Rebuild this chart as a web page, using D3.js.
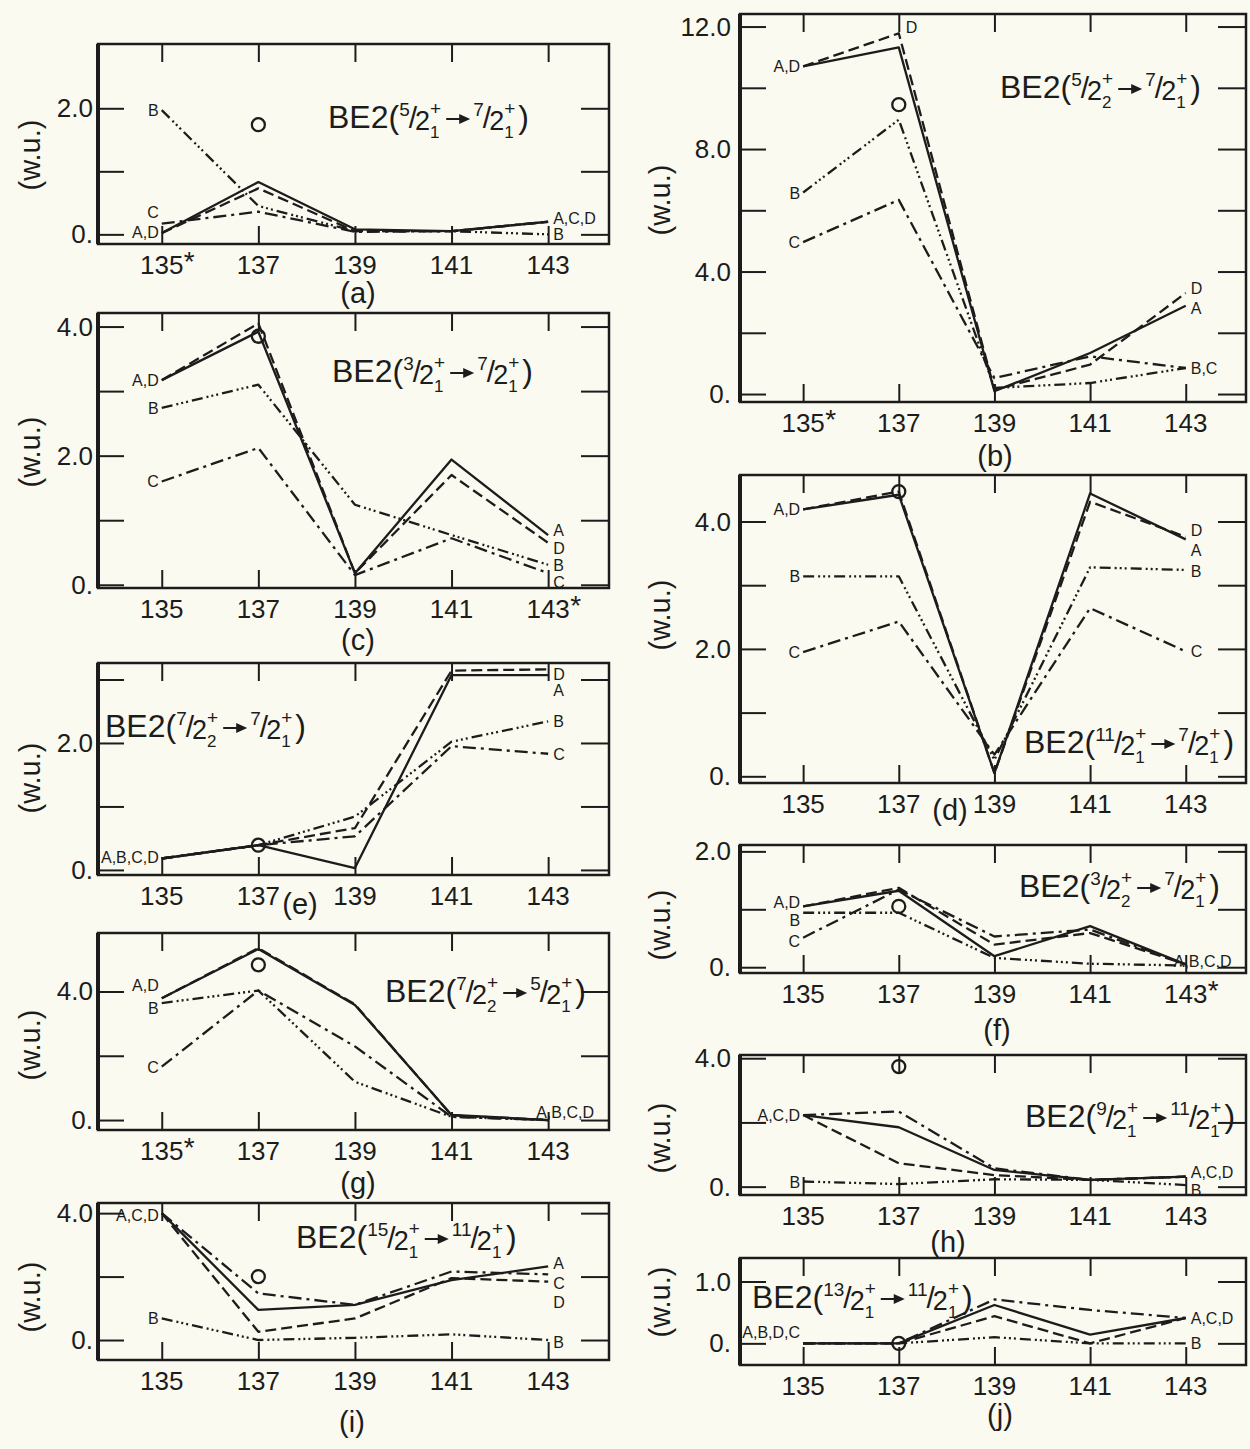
<!DOCTYPE html>
<html>
<head>
<meta charset="utf-8">
<script src="https://cdn.jsdelivr.net/npm/d3@7"></script>
<style>
  body { margin: 0; background: #fbfaf0; }
  svg { display: block; }
  text { font-family: "Liberation Sans", Arial, sans-serif; fill: #1c1c1c; }
</style>
</head>
<body>
<div id="app"></div>
<script>
// mass numbers on the x axis
const isotopes = [135, 137, 139, 141, 143]
const panelIds = ['a', 'b', 'c', 'd', 'e', 'f', 'g', 'h', 'i', 'j']

// B(E2) values (w.u.) per panel, models A..D
const seriesA = [
  [0.02, 0.83, 0.08, 0.05, 0.20],
  [10.70, 11.32, 0.09, 1.34, 2.88],
  [3.17, 3.92, 0.18, 1.94, 0.77],
  [4.19, 4.42, 0.05, 4.44, 3.72],
  [0.18, 0.39, 0.03, 3.07, 3.07],
  [1.05, 1.32, 0.19, 0.71, 0.05],
  [3.79, 5.32, 3.58, 0.16, 0.00],
  [2.23, 1.85, 0.52, 0.21, 0.31],
  [4.00, 0.95, 1.11, 1.89, 2.32],
  [0.00, 0.00, 0.62, 0.14, 0.41]
]
const seriesB = [
  [1.97, 0.45, 0.05, 0.05, 0.00],
  [6.58, 8.96, 0.20, 0.36, 0.85],
  [2.74, 3.10, 1.24, 0.77, 0.31],
  [3.14, 3.14, 0.26, 3.28, 3.24],
  [0.18, 0.39, 0.84, 2.02, 2.34],
  [0.94, 0.94, 0.16, 0.06, 0.03],
  [3.64, 4.03, 1.19, 0.10, 0.00],
  [0.16, 0.08, 0.23, 0.21, 0.05],
  [0.68, 0.00, 0.07, 0.18, 0.00],
  [0.00, 0.00, 0.10, 0.00, 0.00]
]
const seriesC = [
  [0.17, 0.36, 0.04, 0.05, 0.20],
  [4.96, 6.34, 0.52, 1.23, 0.85],
  [1.60, 2.12, 0.15, 0.72, 0.18],
  [1.95, 2.43, 0.34, 2.64, 1.96],
  [0.18, 0.39, 0.53, 1.95, 1.83],
  [0.51, 1.34, 0.53, 0.65, 0.05],
  [1.66, 4.03, 2.29, 0.10, 0.00],
  [2.23, 2.34, 0.57, 0.21, 0.31],
  [4.00, 1.47, 1.11, 2.16, 2.07],
  [0.00, 0.00, 0.71, 0.54, 0.41]
]
const seriesD = [
  [0.02, 0.73, 0.05, 0.05, 0.20],
  [10.70, 11.78, 0.14, 0.96, 3.30],
  [3.17, 4.05, 0.18, 1.70, 0.65],
  [4.19, 4.47, 0.05, 4.31, 3.76],
  [0.18, 0.39, 0.66, 3.14, 3.16],
  [1.05, 1.37, 0.39, 0.59, 0.05],
  [3.79, 5.35, 3.60, 0.15, 0.00],
  [2.23, 0.73, 0.36, 0.21, 0.31],
  [4.00, 0.26, 0.68, 1.95, 1.84],
  [0.00, 0.00, 0.44, 0.00, 0.41]
]
// experimental value (open circle), always at A = 137
const expIsotope = 137
const expValue = [1.74, 9.45, 3.85, 4.47, 0.39, 1.05, 4.83, 3.74, 2.0, 0.0]

// transitions: [initial numerator, initial index, final numerator, final index]
const transitions = [
  ['5', '1', '7', '1'], ['5', '2', '7', '1'], ['3', '1', '7', '1'], ['11', '1', '7', '1'],
  ['7', '2', '7', '1'], ['3', '2', '7', '1'], ['7', '2', '5', '1'], ['9', '1', '11', '1'],
  ['15', '1', '11', '1'], ['13', '1', '11', '1']
]

const yTicks = [[0, 1, 2], [0, 2, 4, 6, 8, 10, 12], [0, 1, 2, 3, 4], [0, 1, 2, 3, 4], [0, 1, 2, 3],
  [0, 1, 2], [0, 2, 4], [0, 2, 4], [0, 2, 4], [0, 1]]
const yTickLabels = [[0, 2], [0, 4, 8, 12], [0, 2, 4], [0, 2, 4], [0, 2], [0, 2], [0, 4], [0, 4], [0, 4], [0, 1]]
const starred = [135, 135, 143, null, null, 143, 135, null, null, null]

// curve labels: [text, where, value]
const curveLabels = [
  [['B', 'L', 1.97], ['C', 'L', 0.36], ['A,D', 'L', 0.04], ['A,C,D', 'R', 0.26], ['B', 'R', 0.0]],
  [['A,D', 'L', 10.7], ['B', 'L', 6.58], ['C', 'L', 4.96], ['D', 'T', 12.0], ['D', 'R', 3.46], ['A', 'R', 2.8], ['B,C', 'R', 0.85]],
  [['A,D', 'L', 3.17], ['B', 'L', 2.74], ['C', 'L', 1.6], ['A', 'R', 0.85], ['D', 'R', 0.57], ['B', 'R', 0.31], ['C', 'R', 0.04]],
  [['A,D', 'L', 4.19], ['B', 'L', 3.14], ['C', 'L', 1.95], ['D', 'R', 3.87], ['A', 'R', 3.56], ['B', 'R', 3.22], ['C', 'R', 1.96]],
  [['A,B,C,D', 'L', 0.21], ['D', 'R', 3.08], ['A', 'R', 2.83], ['B', 'R', 2.34], ['C', 'R', 1.82]],
  [['A,D', 'L', 1.13], ['B', 'L', 0.82], ['C', 'L', 0.45], ['A,B,C,D', 'RR', 0.1]],
  [['A,D', 'L', 4.2], ['B', 'L', 3.5], ['C', 'L', 1.66], ['A,B,C,D', 'RR', 0.26]],
  [['A,C,D', 'L', 2.23], ['B', 'L', 0.16], ['A,C,D', 'R', 0.47], ['B', 'R', -0.1]],
  [['A,C,D', 'L', 3.95], ['B', 'L', 0.68], ['A', 'R', 2.42], ['C', 'R', 1.79], ['D', 'R', 1.21], ['B', 'R', -0.05]],
  [['A,B,D,C', 'L', 0.19], ['A,C,D', 'R', 0.41], ['B', 'R', 0.0]]
]

// ---- layout ----
const frames = [
  [98, 44, 609, 244], [740, 14, 1246, 402], [98, 313, 609, 588], [740, 475, 1246, 783],
  [98, 663, 609, 875], [740, 845, 1246, 973], [98, 933, 609, 1130], [740, 1055, 1246, 1195],
  [98, 1203, 609, 1360], [740, 1258, 1246, 1365]
]
const yDomains = [[-0.153, 3.02], [-0.26, 12.41], [-0.05, 4.21], [-0.105, 4.73], [-0.08, 3.26],
  [-0.1, 2.11], [-0.31, 5.82], [-0.26, 4.1], [-0.63, 4.32], [-0.35, 1.38]]
const titlePos = [[328, 128], [1000, 98], [332, 382], [1024, 753], [105, 737], [1019, 897],
  [385, 1002], [1025, 1127], [296, 1248], [752, 1308]]
const subPos = [[358, 303], [995, 466], [358, 650], [950, 820], [300, 914], [997, 1040],
  [358, 1193], [948, 1252], [352, 1432], [1000, 1425]]
const wuY = [155, 200, 452, 615, 778, 925, 1045, 1138, 1297, 1302]

const ink = '#1c1c1c'
const styles = [
  { data: seriesB, dash: '11,4,2,3,2,3,2,4' },
  { data: seriesC, dash: '13,5,3,5' },
  { data: seriesD, dash: '11,5' },
  { data: seriesA, dash: null }
]

const svg = d3.select('#app').append('svg')
  .attr('width', 1250).attr('height', 1449)

svg.append('rect').attr('width', 1250).attr('height', 1449).attr('fill', '#fbfaf0')

const drawTitle = (g, x0, y0, tr) => {
  let cx = x0
  const put = (txt, size, dy, adv = true) => {
    const t = g.append('text').attr('x', cx).attr('y', y0 + dy)
      .attr('font-size', size).text(txt)
    const w = t.node().getComputedTextLength()
    if (adv) cx += w
    return w
  }
  const frac = (num, idx) => {
    put(num, 19, -12)
    cx -= 1
    put('/', 30, 0)
    cx -= 2
    put('2', 27, 2)
    const w1 = put('+', 19, -13, false)
    const w2 = put(idx, 17, 10, false)
    cx += Math.max(w1, w2) + 3
  }
  put('BE2(', 32, 0)
  frac(tr[0], tr[1])
  // arrow
  const ay = y0 - 9
  g.append('line').attr('x1', cx + 2).attr('x2', cx + 18).attr('y1', ay).attr('y2', ay)
    .attr('stroke', ink).attr('stroke-width', 2)
  g.append('path').attr('d', `M${cx + 15},${ay - 5}L${cx + 26},${ay}L${cx + 15},${ay + 5}Z`)
    .attr('fill', ink)
  cx += 29
  frac(tr[2], tr[3])
  put(')', 32, 0)
}

panelIds.forEach((id, p) => {
  const [x0, y0, x1, y1] = frames[p]
  const g = svg.append('g').attr('class', 'panel-' + id)

  const x = d3.scaleLinear().domain([133.68, 144.26]).range([x0, x1])
  const y = d3.scaleLinear().domain(yDomains[p]).range([y1, y0])

  // inward ticks on all sides
  g.append('g').attr('transform', `translate(0,${y1})`)
    .call(d3.axisBottom(x).tickValues(isotopes).tickSize(-18).tickFormat(''))
  g.append('g').attr('transform', `translate(0,${y0})`)
    .call(d3.axisTop(x).tickValues(isotopes).tickSize(-18).tickFormat(''))
  g.append('g').attr('transform', `translate(${x0},0)`)
    .call(d3.axisLeft(y).tickValues(yTicks[p]).tickSize(-26).tickFormat(''))
  g.append('g').attr('transform', `translate(${x1},0)`)
    .call(d3.axisRight(y).tickValues(yTicks[p]).tickSize(-28).tickFormat(''))
  g.selectAll('.domain').remove()
  g.selectAll('.tick line').attr('stroke', ink).attr('stroke-width', 2)

  // frame
  g.append('rect').attr('x', x0).attr('y', y0).attr('width', x1 - x0).attr('height', y1 - y0)
    .attr('fill', 'none').attr('stroke', ink).attr('stroke-width', 2.5)
  g.append('line').attr('x1', x0).attr('x2', x0).attr('y1', y0).attr('y2', y1)
    .attr('stroke', ink).attr('stroke-width', 4)

  // x tick labels
  isotopes.forEach(m => {
    g.append('text').attr('x', x(m)).attr('y', y1 + 30).attr('text-anchor', 'middle')
      .attr('font-size', 26).text(m)
    if (starred[p] === m) {
      g.append('text').attr('x', x(m) + 22).attr('y', y1 + 27).attr('font-size', 28).text('*')
    }
  })

  // y tick labels
  const right = p % 2 === 1
  yTickLabels[p].forEach(v => {
    g.append('text').attr('x', x0 - (right ? 9 : 5)).attr('y', y(v) + 9)
      .attr('text-anchor', 'end').attr('font-size', 26)
      .text(v === 0 ? '0.' : v.toFixed(1))
  })

  // y axis title
  const wx = right ? 660 : 30
  g.append('text').attr('transform', `translate(${wx},${wuY[p]}) rotate(-90)`)
    .attr('text-anchor', 'middle').attr('dy', '0.35em').attr('font-size', 29).text('(w.u.)')

  // model curves
  const line = d3.line().x((d, i) => x(isotopes[i])).y(d => y(d))
  styles.forEach(s => {
    g.append('path').datum(s.data[p]).attr('d', line)
      .attr('fill', 'none').attr('stroke', ink).attr('stroke-width', 2.3)
      .attr('stroke-linejoin', 'round')
      .attr('stroke-dasharray', s.dash)
  })

  // experiment
  g.append('circle').attr('cx', x(expIsotope)).attr('cy', y(expValue[p])).attr('r', 6.5)
    .attr('fill', 'none').attr('stroke', ink).attr('stroke-width', 2.3)

  // curve labels
  curveLabels[p].forEach(([txt, side, v]) => {
    let lx, anchor = 'start'
    if (side === 'L') { lx = x(135) - 3; anchor = 'end' }
    else if (side === 'R') lx = x(143) + 5
    else if (side === 'RR') lx = x(143) - 12
    else lx = x(137) + 7
    g.append('text').attr('x', lx).attr('y', y(v) + 6).attr('text-anchor', anchor)
      .attr('font-size', 16).text(txt)
  })

  drawTitle(g, titlePos[p][0], titlePos[p][1], transitions[p])

  g.append('text').attr('x', subPos[p][0]).attr('y', subPos[p][1]).attr('text-anchor', 'middle')
    .attr('font-size', 29).text(`(${id})`)
})
</script>
</body>
</html>
